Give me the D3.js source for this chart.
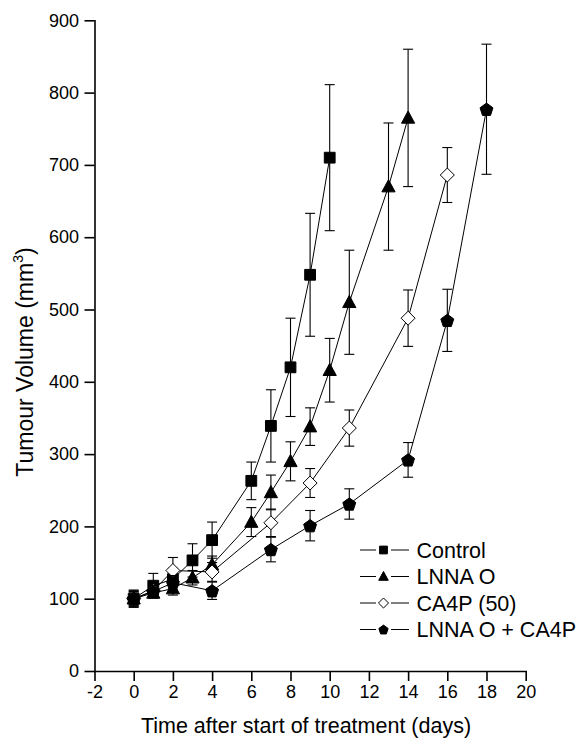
<!DOCTYPE html>
<html>
<head>
<meta charset="utf-8">
<script src="https://cdn.jsdelivr.net/npm/d3@7"></script>
<style>
  html, body { margin: 0; padding: 0; background: #fff; }
  svg { display: block; font-family: "Liberation Sans", Arial, Helvetica, sans-serif; }
</style>
</head>
<body>
<svg id="chart" width="585" height="740"></svg>
<script>
// Tumour growth per treatment group: mean volume (mm^3) and error (±) per day
const seriesNames = ["Control", "LNNA O", "CA4P (50)", "LNNA O + CA4P"];

const controlDays = [0, 1, 2, 3, 4, 6, 7, 8, 9, 10];
const controlMean = [100, 118, 127, 153, 181, 263, 339, 420, 548, 710];
const controlErr  = [11, 17, 15, 23, 25, 26, 50, 68, 85, 101];

const lnnaDays = [0, 1, 2, 3, 4, 6, 7, 8, 9, 10, 11, 13, 14];
const lnnaMean = [100, 108, 114, 129, 147, 206, 247, 290, 338, 416, 510, 670, 765];
const lnnaErr  = [10, 7, 9, 10, 12, 20, 24, 27, 26, 44, 72, 88, 95];

const ca4pDays = [0, 1, 2, 4, 7, 9, 11, 14, 16];
const ca4pMean = [100, 111, 139, 137, 205, 260, 336, 488, 686];
const ca4pErr  = [9, 8, 18, 13, 19, 20, 25, 39, 38];

const comboDays = [0, 1, 2, 4, 7, 9, 11, 14, 16, 18];
const comboMean = [100, 110, 122, 111, 168, 201, 231, 292, 485, 777];
const comboErr  = [12, 8, 10, 12, 17, 21, 21, 24, 43, 90];

const xTicks = [-2, 0, 2, 4, 6, 8, 10, 12, 14, 16, 18, 20];
const yTicks = [0, 100, 200, 300, 400, 500, 600, 700, 800, 900];

// Marker shapes; "size" is the half-width of each glyph
const symSquare = { draw(ctx, r) { ctx.rect(-r, -r, 2 * r, 2 * r); } };
const symTriangle = { draw(ctx, r) {
  ctx.moveTo(0, -r * 1.05); ctx.lineTo(r, r * 0.8); ctx.lineTo(-r, r * 0.8); ctx.closePath(); } };
const symDiamond = { draw(ctx, r) {
  ctx.moveTo(0, -r); ctx.lineTo(r, 0); ctx.lineTo(0, r); ctx.lineTo(-r, 0); ctx.closePath(); } };
const symPentagon = { draw(ctx, r) {
  for (let i = 0; i < 5; i++) {
    const a = -Math.PI / 2 + i * 2 * Math.PI / 5;
    const px = r * Math.cos(a), py = r * Math.sin(a) + r * 0.1;
    if (i === 0) ctx.moveTo(px, py); else ctx.lineTo(px, py);
  }
  ctx.closePath(); } };

const series = [
  { name: seriesNames[0], days: controlDays, mean: controlMean, err: controlErr, sym: symSquare,   r: 5.4, fill: "#000" },
  { name: seriesNames[1], days: lnnaDays,    mean: lnnaMean,    err: lnnaErr,    sym: symTriangle, r: 6.6, fill: "#000" },
  { name: seriesNames[2], days: ca4pDays,    mean: ca4pMean,    err: ca4pErr,    sym: symDiamond,  r: 7.0, fill: "#fff" },
  { name: seriesNames[3], days: comboDays,   mean: comboMean,   err: comboErr,   sym: symPentagon, r: 6.8, fill: "#000" }
];

const svg = d3.select("#chart");
svg.append("rect").attr("width", 585).attr("height", 740).attr("fill", "#fff");

const x = d3.scaleLinear().domain([-2, 20]).range([94.5, 525.7]);
const y = d3.scaleLinear().domain([0, 900]).range([671, 20.3]);

const tickFont = 18, titleFont = 21.5;
const plainInt = d => String(d);   // hyphen-minus for negative ticks

// Minor ticks
const xMinor = d3.range(-1, 20, 2);
const yMinor = d3.range(50, 900, 100);

const gx = svg.append("g").attr("transform", `translate(0,${y(0)})`);
gx.call(d3.axisBottom(x).tickValues(xMinor).tickSize(5).tickSizeOuter(0).tickFormat(""));
gx.call(d3.axisBottom(x).tickValues(xTicks).tickSize(10).tickSizeOuter(0).tickPadding(4.3)
  .tickFormat(plainInt));
gx.selectAll("text").attr("font-size", tickFont).attr("fill", "#000").attr("font-family", null);
gx.selectAll("path,line").attr("stroke", "#000").attr("stroke-width", 1.6);

const gy = svg.append("g").attr("transform", `translate(${x(-2)},0)`);
gy.call(d3.axisLeft(y).tickValues(yMinor).tickSize(5).tickSizeOuter(0).tickFormat(""));
gy.call(d3.axisLeft(y).tickValues(yTicks).tickSize(10).tickSizeOuter(0).tickPadding(5.5)
  .tickFormat(plainInt));
gy.selectAll("text").attr("font-size", tickFont).attr("fill", "#000").attr("font-family", null);
gy.selectAll("path,line").attr("stroke", "#000").attr("stroke-width", 1.6);
svg.selectAll(".domain").attr("stroke-linecap", "square");

// Axis titles
svg.append("text")
  .attr("x", 306).attr("y", 733)
  .attr("text-anchor", "middle").attr("font-size", titleFont).attr("fill", "#000")
  .text("Time after start of treatment (days)");

const yt = svg.append("text")
  .attr("transform", "translate(33,362) rotate(-90)")
  .attr("text-anchor", "middle").attr("font-size", 23).attr("fill", "#000");
yt.append("tspan").text("Tumour Volume (mm");
yt.append("tspan").attr("font-size", 14).attr("dy", -10).text("3");
yt.append("tspan").attr("dy", 10).text(")");

// Series: connecting lines, error bars, then markers
const line = d3.line().x(d => x(d.day)).y(d => y(d.v));
const capHalf = 5;

series.forEach(s => {
  const pts = s.days.map((d, i) => ({ day: d, v: s.mean[i], e: s.err[i] }));
  const g = svg.append("g");

  g.append("path").datum(pts).attr("d", line)
    .attr("fill", "none").attr("stroke", "#000").attr("stroke-width", 1);

  const eb = g.selectAll(".eb").data(pts).enter().append("g");
  eb.append("line")
    .attr("x1", d => x(d.day)).attr("x2", d => x(d.day))
    .attr("y1", d => y(d.v + d.e)).attr("y2", d => y(d.v - d.e));
  eb.append("line")
    .attr("x1", d => x(d.day) - capHalf).attr("x2", d => x(d.day) + capHalf)
    .attr("y1", d => y(d.v + d.e)).attr("y2", d => y(d.v + d.e));
  eb.append("line")
    .attr("x1", d => x(d.day) - capHalf).attr("x2", d => x(d.day) + capHalf)
    .attr("y1", d => y(d.v - d.e)).attr("y2", d => y(d.v - d.e));
  eb.selectAll("line").attr("stroke", "#000").attr("stroke-width", 1.1);

  const sym = d3.symbol().type(s.sym).size(s.r);
  g.selectAll(".mk").data(pts).enter().append("path")
    .attr("d", sym)
    .attr("transform", d => `translate(${x(d.day)},${y(d.v)})`)
    .attr("fill", s.fill).attr("stroke", "#000").attr("stroke-width", 1);
});

// Legend
const legend = svg.append("g");
series.forEach((s, i) => {
  const cy = 550 + i * 26.5;
  const row = legend.append("g");
  row.append("line").attr("x1", 360).attr("x2", 376).attr("y1", cy).attr("y2", cy);
  row.append("line").attr("x1", 391).attr("x2", 409).attr("y1", cy).attr("y2", cy);
  row.selectAll("line").attr("stroke", "#000").attr("stroke-width", 1);
  row.append("path")
    .attr("d", d3.symbol().type(s.sym).size(s.r * 0.72)())
    .attr("transform", `translate(383.5,${cy})`)
    .attr("fill", s.fill).attr("stroke", "#000").attr("stroke-width", 1);
  row.append("text")
    .attr("x", 416.5).attr("y", cy + 7.7)
    .attr("font-size", titleFont).attr("fill", "#000")
    .text(s.name);
});
</script>
</body>
</html>
